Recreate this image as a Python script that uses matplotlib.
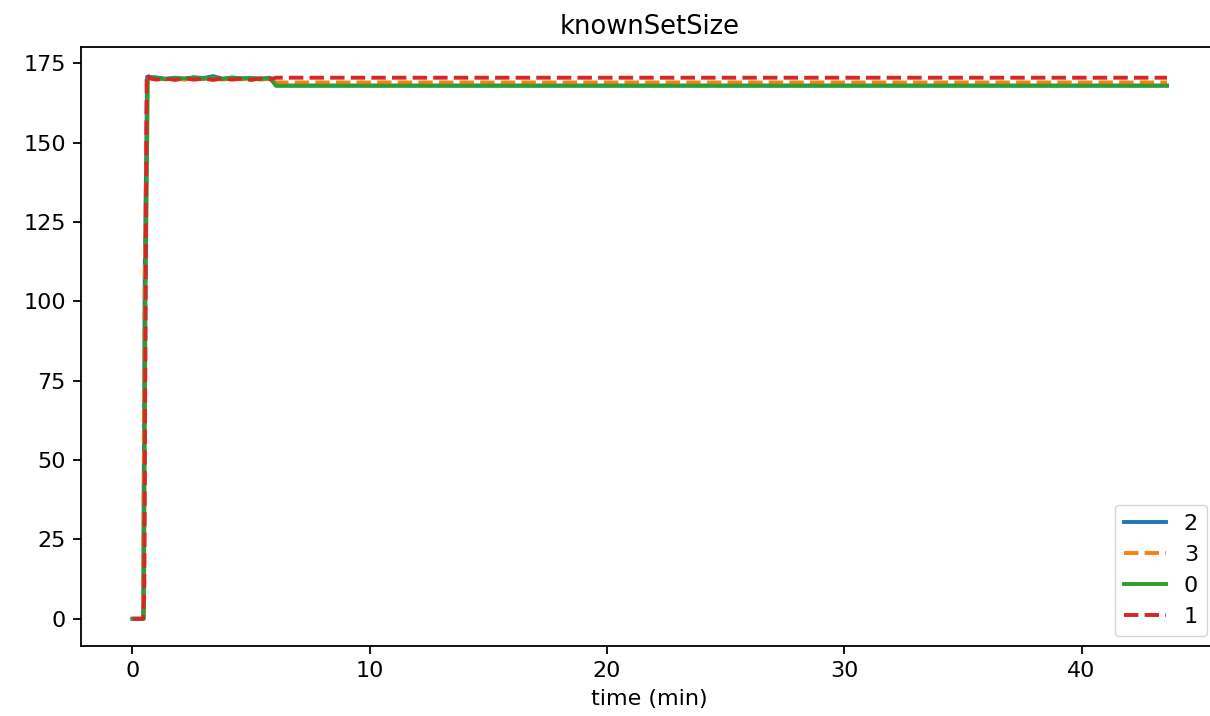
import matplotlib.pyplot as plt

# time (min) and knownSetSize per node
time_2 = [0, 0.45, 0.52, 0.62, 1.0, 1.4, 1.8, 2.2, 2.6, 3.0, 3.4, 3.8, 4.2, 4.6, 5.0, 5.4, 5.8, 6.05, 43.6]
size_2 = [0, 0, 110, 170.8, 170.6, 170.2, 170.5, 170.1, 170.6, 170.4, 171.0, 170.2, 170.5, 170.3, 170.4, 170.2, 170.5, 168, 168]

time_3 = [0, 0.45, 0.52, 0.62, 1.0, 1.4, 1.8, 2.2, 2.6, 3.0, 3.4, 3.8, 4.2, 4.6, 5.0, 5.4, 5.8, 6.05, 43.6]
size_3 = [0, 0, 105, 170.4, 170.2, 170.0, 170.3, 169.9, 170.2, 170.1, 170.4, 169.9, 170.2, 170.0, 170.3, 169.9, 170.2, 169, 169]

time_0 = [0, 0.48, 0.55, 0.65, 1.0, 1.4, 1.8, 2.2, 2.6, 3.0, 3.4, 3.8, 4.2, 4.6, 5.0, 5.4, 5.8, 6.05, 43.6]
size_0 = [0, 0, 100, 170.2, 170.5, 170.0, 170.4, 170.3, 170.6, 170.2, 170.5, 170.1, 170.6, 170.2, 170.4, 170.1, 170.4, 168, 168]

time_1 = [0, 0.45, 0.5, 0.6, 0.75, 1.0, 1.4, 1.8, 2.2, 2.6, 3.0, 3.4, 3.8, 4.2, 4.6, 5.0, 5.4, 5.8, 6.05, 43.6]
size_1 = [0, 0, 8, 171.6, 170.3, 169.9, 170.2, 169.8, 170.3, 169.9, 170.2, 169.8, 170.3, 169.9, 170.2, 169.8, 170.3, 170.0, 170.5, 170.5]

series = [
    ('2', time_2, size_2, '#1f77b4', '-'),
    ('3', time_3, size_3, '#ff7f0e', '--'),
    ('0', time_0, size_0, '#2ca02c', '-'),
    ('1', time_1, size_1, '#d62728', '--'),
]

fig = plt.figure(figsize=(12.1, 7.16), dpi=100)
ax = fig.add_axes([80.7 / 1210, 70 / 716, 1138 / 1210, 599 / 716])

for name, t, v, color, ls in series:
    ax.plot(t, v, color=color, linestyle=ls, linewidth=2.8, label=name)

ax.set_title('knownSetSize', fontsize=18.5, pad=9)
ax.set_xlabel('time (min)', fontsize=16, labelpad=6)
ax.set_xticks([0, 10, 20, 30, 40])
ax.set_yticks([0, 25, 50, 75, 100, 125, 150, 175])
ax.tick_params(labelsize=16, width=1.3, length=5.6, pad=5)
for sp in ax.spines.values():
    sp.set_linewidth(1.3)

# legend sits inside the visible part of the figure (the axes runs past the right edge)
ax.legend(loc='lower right', bbox_to_anchor=(1207 / 1210, 80 / 716),
          bbox_transform=fig.transFigure, borderaxespad=0, fontsize=16,
          handlelength=1.9)

fig.savefig('out.png', dpi=100)
